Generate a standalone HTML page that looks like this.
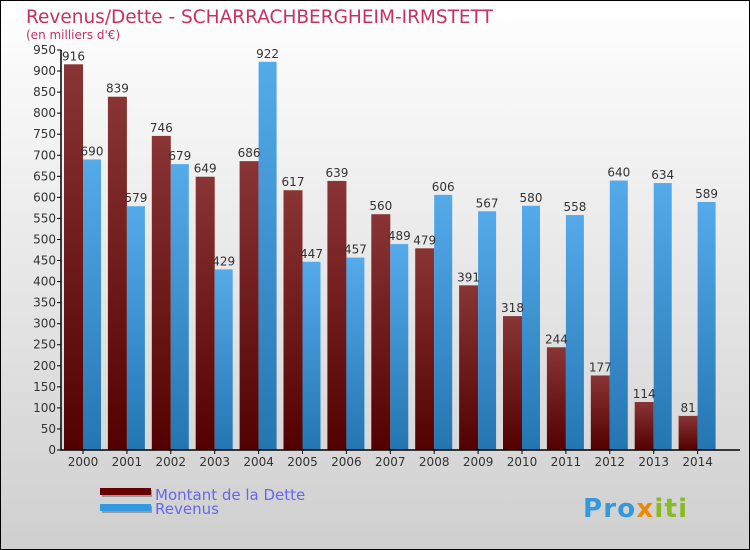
<!DOCTYPE html>
<html><head><meta charset="utf-8"><style>
body{margin:0}
svg{display:block;font-family:"DejaVu Sans","Liberation Sans",sans-serif}
</style></head><body>
<svg width="750" height="550" viewBox="0 0 750 550" id="c">
<defs>
<linearGradient id="bg" x1="0" y1="0" x2="0" y2="1"><stop offset="0" stop-color="#ffffff"/><stop offset="1" stop-color="#cfcfcf"/></linearGradient>
<linearGradient id="gd" x1="0" y1="0" x2="0" y2="1"><stop offset="0" stop-color="#8a3535"/><stop offset="1" stop-color="#520000"/></linearGradient>
<linearGradient id="gr" x1="0" y1="0" x2="0" y2="1"><stop offset="0" stop-color="#55aaea"/><stop offset="1" stop-color="#2476b2"/></linearGradient>
</defs>
<rect x="0.5" y="0.5" width="749" height="549" fill="url(#bg)" stroke="#000"/>
<text x="26" y="23" font-size="18.5" fill="#c8305f">Revenus/Dette - SCHARRACHBERGHEIM-IRMSTETT</text>
<text x="26" y="39" font-size="12" fill="#c8305f">(en milliers d'€)</text>
<g id="plot"></g>
<g>
<rect x="102" y="490" width="50" height="7" fill="#999"/><rect x="100" y="488" width="51" height="7" fill="#660000"/>
<rect x="102" y="506" width="50" height="7" fill="#999"/><rect x="100" y="504" width="51" height="7" fill="#3399e0"/>
<text x="155" y="500" font-size="15" fill="#6666ee">Montant de la Dette</text>
<text x="155" y="514" font-size="15" fill="#6666ee">Revenus</text>
</g>
<text x="583" y="517" font-size="26" font-weight="bold" fill="#3399dd" textLength="104">Pro<tspan fill="#ee8800">x</tspan><tspan fill="#88bb22">iti</tspan></text>
</svg>
<script>
const years=["2000","2001","2002","2003","2004","2005","2006","2007","2008","2009","2010","2011","2012","2013","2014"];
const dette=[916,839,746,649,686,617,639,560,479,391,318,244,177,114,81];
const revenus=[690,579,679,429,922,447,457,489,606,567,580,558,640,634,589];
const yTicks=[0,50,100,150,200,250,300,350,400,450,500,550,600,650,700,750,800,850,900,950];
const NS="http://www.w3.org/2000/svg";
const g=document.getElementById('plot');
const y0=450,ppu=400/950,x0=61,step=43.9;
const Y=v=>y0-v*ppu;
const X=i=>x0+3+i*step;
function el(t,a,txt){const e=document.createElementNS(NS,t);for(const k in a)e.setAttribute(k,a[k]);if(txt!==undefined)e.textContent=txt;g.appendChild(e);return e;}
years.forEach((yr,i)=>{
 const xd=X(i);
 let r=el('rect',{x:xd,y:Y(dette[i]),width:19,height:dette[i]*ppu,fill:'url(#gd)'});
 
 
 let b=el('rect',{x:xd+19,y:Y(revenus[i]),width:18,height:revenus[i]*ppu,fill:'url(#gr)'});
 
 
 let t1=el('text',{x:xd+9.5,y:Y(dette[i])-4,'font-size':12,fill:'#333','text-anchor':'middle'},String(dette[i]));
 
 
 let t2=el('text',{x:xd+28,y:Y(revenus[i])-4,'font-size':12,fill:'#333','text-anchor':'middle'},String(revenus[i]));
 
 
 let xl=el('text',{x:xd+19,y:466,'font-size':12,fill:'#333','text-anchor':'middle'},yr);
 
 
 let tk=el('line',{x1:xd+19,x2:xd+19,y1:450,y2:454,stroke:'#000'});
 
 
});
yTicks.forEach(v=>{
 let l=el('line',{x1:57,x2:61,y1:Y(v),y2:Y(v),stroke:'#000'});
 
 
 let t=el('text',{x:56,y:Y(v)+4,'font-size':12,fill:'#333','text-anchor':'end'},String(v));
 
 
});
let ax=el('path',{d:'M61 50V450H740',stroke:'#000',fill:'none','stroke-width':1.5});


</script>
</body></html>
